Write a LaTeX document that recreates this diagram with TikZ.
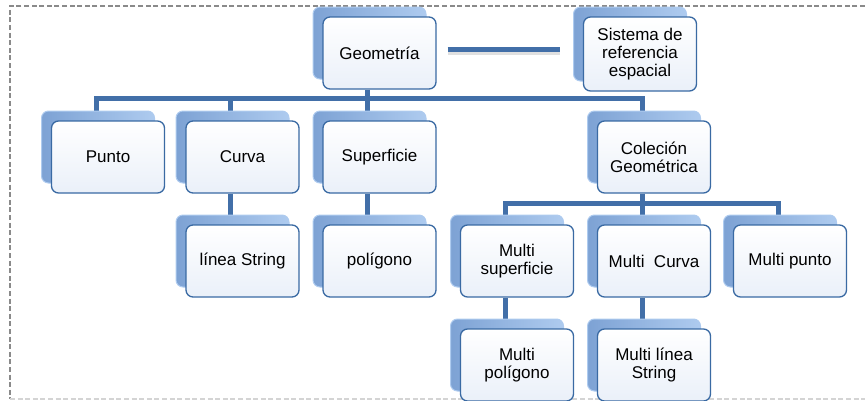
\documentclass[tikz,border=0pt]{standalone}
\usepackage{fontspec}
\setmainfont{Liberation Sans}
\usetikzlibrary{shadows}
\definecolor{bordc}{HTML}{3A6AA3}
\definecolor{connc}{HTML}{426FA8}
\definecolor{shl}{HTML}{AECBEF}
\definecolor{shd}{HTML}{7DA2D4}
\definecolor{boxb}{HTML}{EAF0F9}
\definecolor{framec}{HTML}{8A8A8A}
\definecolor{framel}{HTML}{D4D4D4}
\pgfdeclarelayer{background}
\pgfsetlayers{background,main}
\begin{document}
\begin{tikzpicture}[x=1pt,y=-1pt,
  gbox/.style={draw=bordc, line width=1.3pt, rounded corners=7pt,
    top color=white, bottom color=boxb,
    minimum width=113pt, minimum height=72pt, inner sep=2pt, align=center,
    font=\fontsize{17}{18}\selectfont,
    general shadow={shadow xshift=-10pt, shadow yshift=10pt, left color=shd, right color=shl, draw=shl, line width=1pt}},
  conn/.style={draw=connc, line width=5pt, line join=miter},
  framed/.style={draw=framec, line width=1.3pt, dash pattern=on 5pt off 2.6pt},
  framedl/.style={draw=framel, line width=1.3pt, dash pattern=on 5pt off 2.6pt}]
\useasboundingbox (0,0) rectangle (865,400);
\draw[framed] (865,6) -- (10,6) -- (10,399);
\draw[framedl] (10,399) -- (865,399);

\node[gbox] (geo) at (379.5,53) {Geometría};
\node[gbox, minimum height=74pt] (sis) at (640,54) {Sistema de\\referencia\\espacial};
\node[gbox] (pun) at (108,157) {Punto};
\node[gbox] (cur) at (242.5,157) {Curva};
\node[gbox] (sup) at (379.5,157) {Superficie};
\node[gbox] (col) at (654,157) {Coleción\\Geométrica};
\node[gbox] (lin) at (242.5,261) {línea String};
\node[gbox] (pol) at (379.5,261) {polígono};
\node[gbox] (msu) at (517,261) {Multi\\superficie};
\node[gbox] (mcu) at (654,261) {Multi~~Curva};
\node[gbox] (mpu) at (790,261) {Multi punto};
\node[gbox] (mpo) at (517,365) {Multi\\polígono};
\node[gbox] (mls) at (654,365) {Multi línea\\String};

\begin{pgfonlayer}{background}
\coordinate (bus1) at (0,98);
\coordinate (bus2) at (0,203);
\draw[conn] ([xshift=-12pt]geo.south) -- ([xshift=-12pt]geo.south |- bus1);
\draw[conn] ([xshift=-12pt]pun.north) |- ([xshift=-12pt]col.north |- bus1) -- ([xshift=-12pt]col.north);
\draw[conn] ([xshift=-12pt]cur.north |- bus1) -- ([xshift=-12pt]cur.north);
\draw[conn] ([xshift=-12pt]sup.north |- bus1) -- ([xshift=-12pt]sup.north);
\draw[conn] ([xshift=-12pt]cur.south) -- ([xshift=-12pt]lin.north);
\draw[conn] ([xshift=-12pt]sup.south) -- ([xshift=-12pt]pol.north);
\draw[conn] ([xshift=-12pt]col.south) -- ([xshift=-12pt]col.south |- bus2);
\draw[conn] ([xshift=-12pt]msu.north) |- ([xshift=-12pt]mpu.north |- bus2) -- ([xshift=-12pt]mpu.north);
\draw[conn] ([xshift=-12pt]mcu.north |- bus2) -- ([xshift=-12pt]mcu.north);
\draw[conn] ([xshift=-12pt]msu.south) -- ([xshift=-12pt]mpo.north);
\draw[conn] ([xshift=-12pt]mcu.south) -- ([xshift=-12pt]mls.north);
\draw[line width=6pt, draw=black, opacity=0.12] ([xshift=11pt,yshift=1pt]geo.east) -- ([xshift=-23pt,yshift=2pt]sis.west);
\draw[conn] ([xshift=11pt,yshift=4pt]geo.east) -- ([xshift=-23pt,yshift=5pt]sis.west);
\end{pgfonlayer}
\end{tikzpicture}
\end{document}
